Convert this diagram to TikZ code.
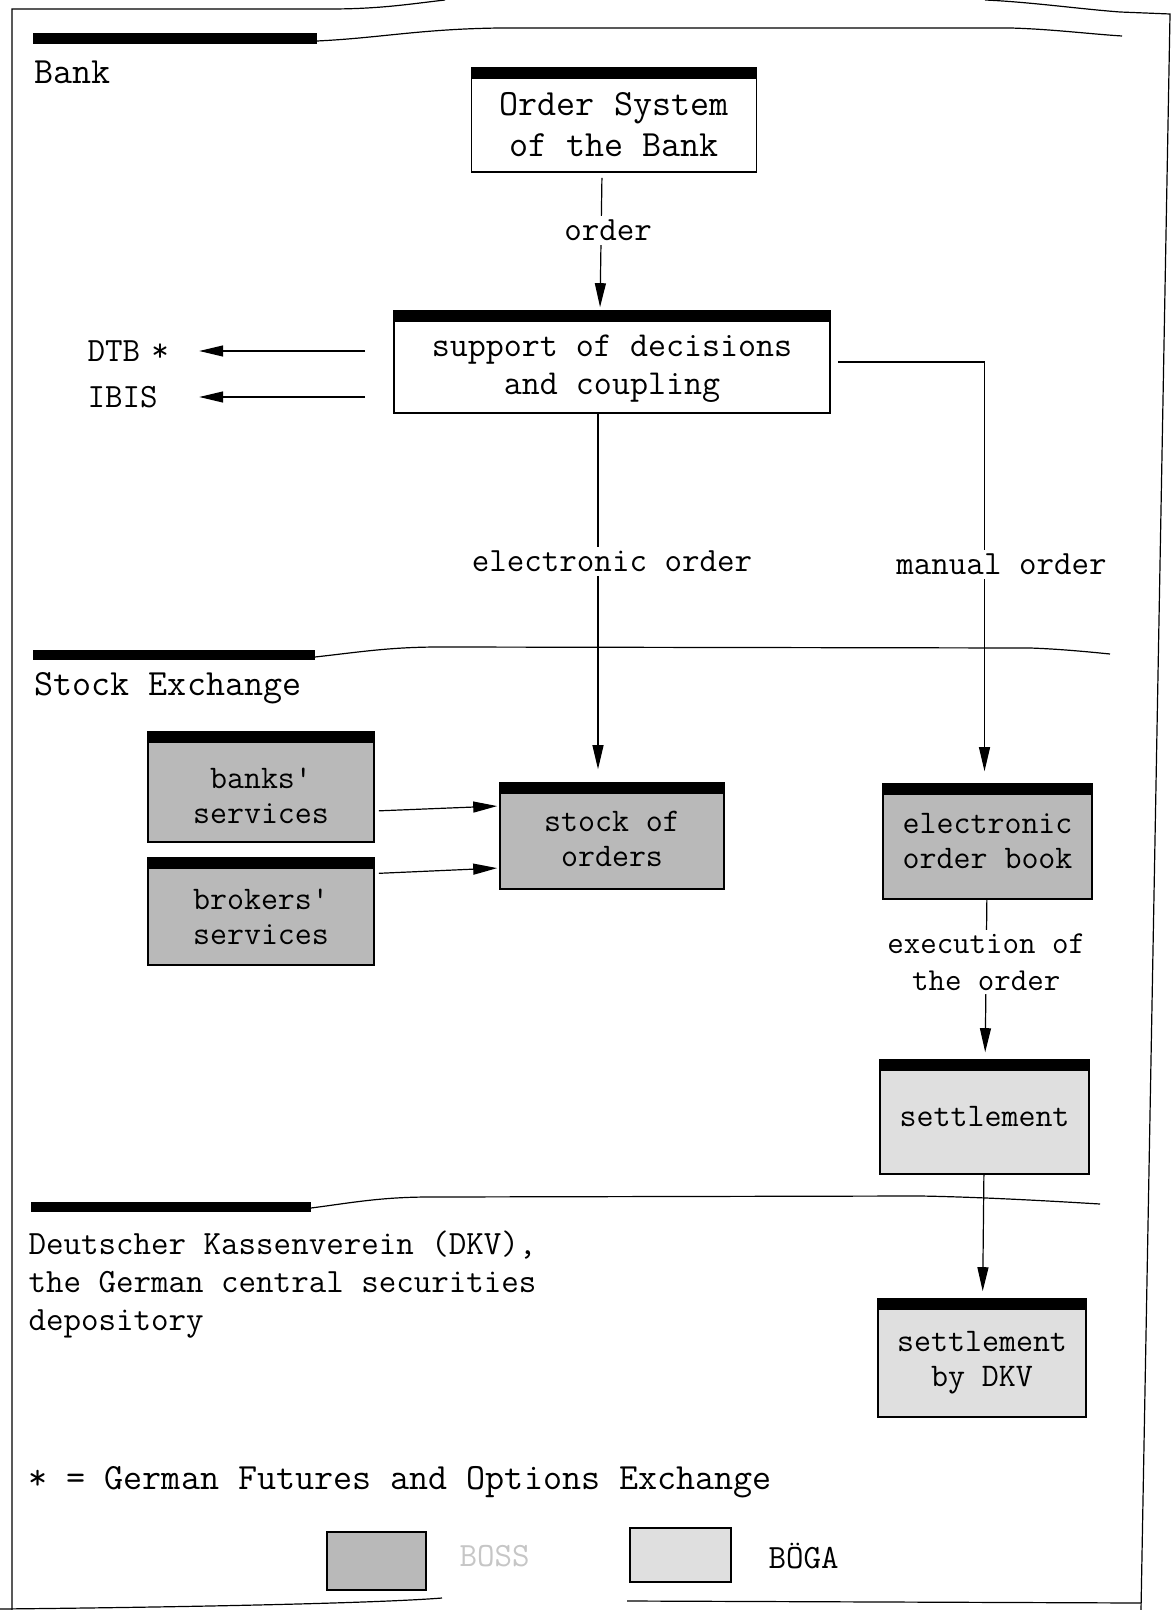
\documentclass[tikz,border=0pt]{standalone}
\usetikzlibrary{arrows.meta,positioning,calc}

\begin{document}
\begin{tikzpicture}[x=0.5pt, y=-0.5pt, >={Triangle[length=12pt,width=5.5pt]}, semithick,
  font=\fontsize{17}{19}\selectfont\ttfamily]
\tikzstyle{unit}=[draw, thick, align=center, inner sep=3pt,
  font=\fontsize{16.5}{17.5}\selectfont\ttfamily,
  path picture={\fill[black] (path picture bounding box.north west) rectangle ([yshift=-5.5pt]path picture bounding box.north east);}]
\tikzstyle{plain}=[unit, fill=white, font=\fontsize{17.5}{19}\selectfont\ttfamily]
\tikzstyle{boss}=[unit, fill=gray!55]
\tikzstyle{boga}=[unit, fill=gray!25]
\tikzstyle{flow}=[->]
\tikzstyle{flowlabel}=[fill=white, inner sep=2pt]
\tikzstyle{title}=[anchor=west, inner sep=0pt, font=\fontsize{18.5}{21}\selectfont\ttfamily]
\useasboundingbox (0,0) rectangle (1172,1610);

% frame of the page
\draw (12,1610) -- (12,9) -- (330,9) .. controls (380,9) and (410,4) .. (445,0);
\draw (985,0) .. controls (1030,2) and (1080,9) .. (1120,12) -- (1170,14) -- (1141,1610);
\draw (0,1609) .. controls (200,1607) and (380,1603) .. (442,1598);
\draw (627,1601) -- (1141,1603);

% sections
\fill (33,33) rectangle (317,44);
\draw (317,41) .. controls (380,38) and (420,29) .. (500,28) -- (1010,28) .. controls (1050,29) and (1090,34) .. (1122,36);
\fill (33,650) rectangle (315,660);
\draw (315,657) .. controls (360,652) and (390,647) .. (440,647) -- (1030,648) .. controls (1060,649) and (1090,652) .. (1110,654);
\fill (31,1202) rectangle (311,1212);
\draw (311,1208) .. controls (350,1203) and (380,1197) .. (430,1197) -- (920,1196) .. controls (980,1197) and (1050,1201) .. (1100,1204);

\node[title] (bank) at (34,72) {Bank};
\node[title] (exch) at (34,688) {Stock Exchange};
\node[anchor=north west, align=left, inner sep=0pt] (dkvtxt) at (28,1230)
  {Deutscher Kassenverein (DKV),\\the German central securities\\depository};

% units
\node[plain, minimum width=142.5pt, minimum height=52pt, text height=37pt, font=\fontsize{18.5}{20.5}\selectfont\ttfamily] (ordsys) at (614,120) {Order System\\of the Bank};
\node[plain, minimum width=218pt, minimum height=51pt, text height=37pt] (support) at (612,362) {support of decisions\\and coupling};
\node[boss, minimum width=113pt, minimum height=55pt, text height=37pt] (banks) at (261,787) {banks'\\services};
\node[boss, minimum width=113pt, minimum height=53.5pt, text height=33pt] (brokers) at (261,911.5) {brokers'\\services};
\node[boss, minimum width=112pt, minimum height=53pt, text height=31pt] (stock) at (612,836) {stock of\\orders};
\node[boss, minimum width=104.5pt, minimum height=57.5pt] (eob) at (987.5,841.5) {electronic\\order book};
\node[boga, minimum width=104.5pt, minimum height=57pt] (settle) at (984.5,1117) {settlement};
\node[boga, minimum width=104pt, minimum height=59pt, text height=32pt] (dkv) at (982,1358) {settlement\\by DKV};

\node[anchor=west, inner sep=0pt, text width=54pt] (dtb) at (87,351) {DTB *};
\node[anchor=west, inner sep=0pt, text width=54pt] (ibis) at (87,397) {IBIS};
\coordinate (dtbsrc) at (365,351);
\coordinate (ibissrc) at (365,397);

\path
([xshift=-6pt]ordsys.south) edge[flow, shorten <=2.5pt, shorten >=1.5pt] node[flowlabel, pos=0.42, xshift=3.5pt] {order} ([xshift=-6pt]support.north)
([xshift=-7pt]support.south) edge[flow, shorten >=6.5pt] node[flowlabel, pos=0.40, xshift=7pt] {electronic order} ([xshift=-7pt]stock.north)
([yshift=-12pt]banks.east) edge[flow, shorten <=2pt, shorten >=1pt] ([yshift=15pt]stock.west)
([yshift=19pt]brokers.east) edge[flow, shorten <=2pt, shorten >=1pt] ([yshift=-16pt]stock.west)
(eob) edge[flow, shorten >=3.5pt] node[flowlabel, pos=0.39, align=center, font=\fontsize{16}{18.5}\selectfont\ttfamily] {execution of\\the order} (settle)
(settle) edge[flow, shorten >=3.5pt] (dkv)
(dtbsrc) edge[flow, shorten >=1.5pt] (dtb)
(ibissrc) edge[flow, shorten >=1.5pt] (ibis);
\draw[flow, shorten <=3.5pt, shorten >=6pt] (support.east) -| node[flowlabel, pos=0.74, xshift=8.5pt] {manual order} ([xshift=-1.5pt]eob.north);

% footnote and legend
\node[anchor=west, inner sep=0pt, font=\fontsize{18.5}{21}\selectfont\ttfamily] (foot) at (28,1482) {* = German Futures and Options Exchange};
\node[draw, thick, fill=gray!55, minimum width=49.5pt, minimum height=29pt] (legboss) at (376.5,1561) {};
\node[anchor=west, inner sep=0pt, text=gray!45] (bosstxt) at (459,1556) {BOSS};
\node[draw, thick, fill=gray!25, minimum width=50.5pt, minimum height=27pt] (legboga) at (680.5,1555) {};
\node[anchor=west, inner sep=0pt] (bogatxt) at (768,1556) {B\"OGA};
\end{tikzpicture}
\end{document}
